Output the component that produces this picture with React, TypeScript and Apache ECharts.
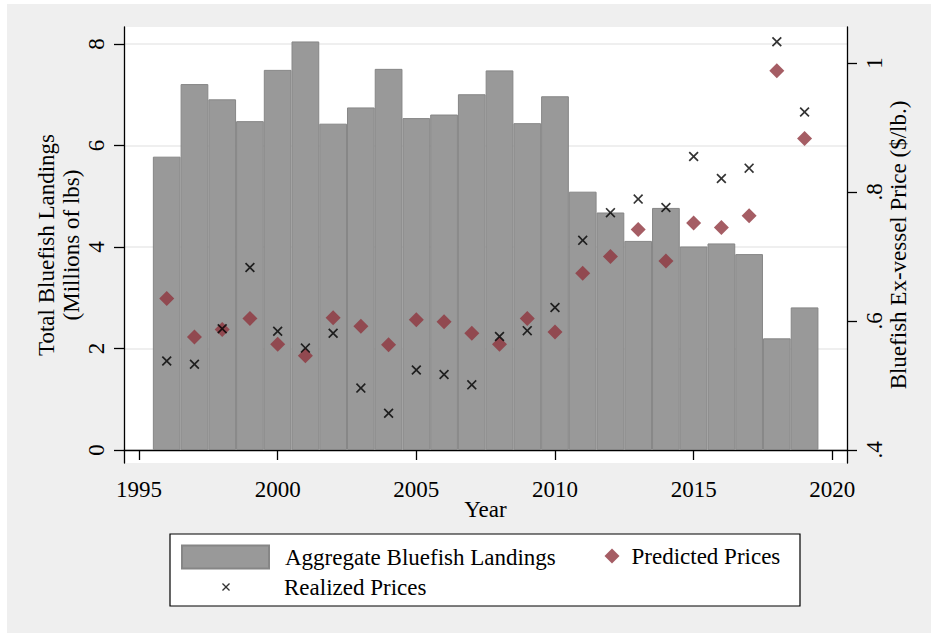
import { useEffect, useRef } from 'react';
import * as echarts from 'echarts';

const years = [1996, 1997, 1998, 1999, 2000, 2001, 2002, 2003, 2004, 2005, 2006, 2007, 2008, 2009, 2010, 2011, 2012, 2013, 2014, 2015, 2016, 2017, 2018, 2019];
const landings = [5.78, 7.21, 6.91, 6.48, 7.49, 8.05, 6.43, 6.75, 7.51, 6.54, 6.61, 7.01, 7.48, 6.44, 6.97, 5.09, 4.68, 4.12, 4.77, 4.01, 4.07, 3.86, 2.2, 2.81];
const predictedPrices = [0.635, 0.575, 0.587, 0.604, 0.564, 0.546, 0.605, 0.592, 0.563, 0.602, 0.599, 0.581, 0.564, 0.604, 0.583, 0.674, 0.7, 0.742, 0.693, 0.752, 0.745, 0.763, 0.988, 0.883];
const realizedPrices = [0.538, 0.533, 0.588, 0.683, 0.584, 0.558, 0.581, 0.496, 0.457, 0.524, 0.517, 0.501, 0.576, 0.585, 0.621, 0.725, 0.768, 0.789, 0.776, 0.855, 0.821, 0.837, 1.033, 0.924];
const xTicks = [1995, 2000, 2005, 2010, 2015, 2020];
const leftTicks = [0, 2, 4, 6, 8];
const rightTicks = [0.4, 0.6, 0.8, 1];

const FONT = '"Liberation Serif", "Times New Roman", serif';
const X_PATH = 'path://M0,1.2L1.2,0L5,3.8L8.8,0L10,1.2L6.2,5L10,8.8L8.8,10L5,6.2L1.2,10L0,8.8L3.8,5Z';

export default function App() {
  const ref = useRef<HTMLDivElement>(null);
  useEffect(() => {
    if (!ref.current) return;
    const chart = echarts.init(ref.current, undefined, { renderer: 'svg' });
    const txt = { fontFamily: FONT, fontSize: 23, color: '#000' };
    const axisLine = { show: true, lineStyle: { color: '#000', width: 1.3 } };
    const axisTick = (vals: number[]) => ({ show: true, length: 10, lineStyle: { color: '#000', width: 1.3 }, customValues: vals });
    const legendText = (pad: number) => ({
      ...txt,
      lineHeight: 23,
      rich: { t: { ...txt, lineHeight: 23, padding: [0, 0, 0, pad] } },
    });
    chart.setOption({
      animation: false,
      backgroundColor: '#EFEFEF',
      grid: { left: 117, right: 84, top: 23, bottom: 170, show: true, backgroundColor: '#fff', borderWidth: 0 },
      xAxis: {
        type: 'value', min: 1994.459, max: 2020.53,
        axisLine, axisTick: axisTick(xTicks),
        axisLabel: { ...txt, margin: 15, customValues: xTicks, formatter: (v: number) => String(v) },
        splitLine: { show: false },
        name: 'Year', nameLocation: 'middle', nameGap: 35, nameMoveOverlap: false, nameTextStyle: txt,
      },
      yAxis: [
        {
          type: 'value', min: -0.2562, max: 8.335, position: 'left',
          axisLine, axisTick: axisTick(leftTicks),
          axisLabel: { ...txt, rotate: 90, margin: 16, customValues: leftTicks },
          splitLine: { show: true, lineStyle: { color: '#EAEAEA', width: 1.5 } },
          name: 'Total Bluefish Landings\n(Millions of lbs)', nameLocation: 'middle', nameRotate: 90, nameGap: 40,
          nameMoveOverlap: false,
          nameTextStyle: { ...txt, lineHeight: 25 },
        },
        {
          type: 'value', min: 0.37984, max: 1.05581, position: 'right',
          axisLine, axisTick: axisTick(rightTicks),
          axisLabel: { ...txt, rotate: 90, margin: 16, customValues: rightTicks, formatter: (v: number) => (v === 1 ? '1' : String(v).replace(/^0/, '')) },
          splitLine: { show: false },
          name: 'Bluefish Ex-vessel Price ($/lb.)', nameLocation: 'middle', nameRotate: 90, nameGap: 40,
          nameMoveOverlap: false,
          nameTextStyle: txt,
        },
      ],
      graphic: [
        { type: 'rect', shape: { x: 163, y: 530, width: 630, height: 72 }, style: { fill: '#fff', stroke: '#000', lineWidth: 1.2 }, z: 0 },
      ],
      legend: [
        {
          left: 174, top: 540.5, padding: 0, itemWidth: 87, itemHeight: 23,
          textStyle: legendText(11), formatter: '{t|{name}}',
          data: [{ name: 'Aggregate Bluefish Landings', icon: 'rect' }],
        },
        {
          left: 597.5, top: 540.5, padding: 0, itemWidth: 15, itemHeight: 15,
          textStyle: legendText(7), formatter: '{t|{name}}',
          data: [{ name: 'Predicted Prices', icon: 'diamond' }],
        },
        {
          left: 215, top: 571.5, padding: 0, itemWidth: 8, itemHeight: 8,
          textStyle: legendText(49), formatter: '{t|{name}}',
          data: [{ name: 'Realized Prices', icon: X_PATH }],
        },
      ],
      series: [
        {
          name: 'Aggregate Bluefish Landings', type: 'bar', yAxisIndex: 0, barWidth: 27.73,
          data: years.map((y, i) => [y, landings[i]]),
          itemStyle: { color: '#999999', borderColor: '#868686', borderWidth: 1 },
        },
        {
          name: 'Predicted Prices', type: 'scatter', yAxisIndex: 1, symbol: 'diamond', symbolSize: 15,
          data: years.map((y, i) => [y, predictedPrices[i]]),
          itemStyle: { color: '#8F343D' },
        },
        {
          name: 'Realized Prices', type: 'scatter', yAxisIndex: 1, symbol: X_PATH, symbolSize: 10,
          data: years.map((y, i) => [y, realizedPrices[i]]),
          itemStyle: { color: '#000' },
        },
      ],
    });
    return () => chart.dispose();
  }, []);
  return <div ref={ref} style={{ position: 'absolute', left: 7, top: 4, width: 924, height: 629 }} />;
}
